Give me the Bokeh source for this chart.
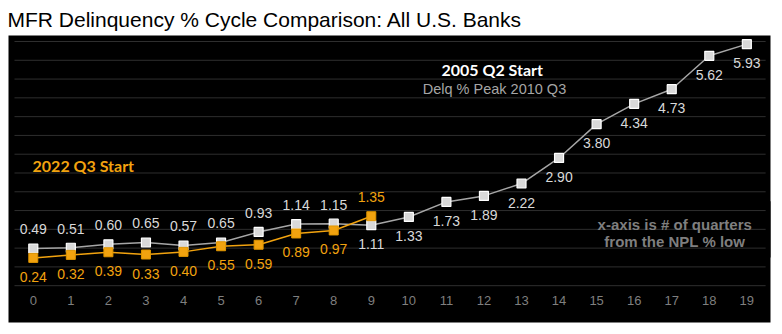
from bokeh.plotting import figure
from bokeh.models import Range1d, BoxAnnotation, ColumnDataSource
from bokeh.embed import file_html
from bokeh.resources import INLINE
from bokeh.core.properties import value

# ---- data ----
quarters = list(range(20))
tick_labels = [str(q) for q in quarters]
cycle_2005 = [0.49, 0.51, 0.60, 0.65, 0.57, 0.65, 0.93, 1.14, 1.15, 1.11,
              1.33, 1.73, 1.89, 2.22, 2.90, 3.80, 4.34, 4.73, 5.62, 5.93]
quarters_2022 = list(range(10))
cycle_2022 = [0.24, 0.32, 0.39, 0.33, 0.40, 0.55, 0.59, 0.89, 0.97, 1.35]
grid_levels = [-0.5, 0.0, 0.5, 1.0, 1.5, 2.0, 2.5, 3.0, 3.5, 4.0, 4.5, 5.0, 5.5, 6.0]
# label side: -1 above the point, +1 below
side_2005 = [-1] * 9 + [1] * 11
side_2022 = [1] * 9 + [-1]

GRAY_LINE = "#A6A6A6"
GRAY_FILL = "#D9D9D9"
GRAY_TEXT = "#D9D9D9"
ORANGE = "#F2A30F"
LABEL_OFF = 19

p = figure(width=782, height=334, output_backend="svg", toolbar_location=None,
           x_range=Range1d(-0.66, 19.63), y_range=Range1d(-1.48, 6.16),
           x_axis_location=None, y_axis_location=None,
           min_border_left=8, min_border_right=12, min_border_bottom=12,
           min_border_top=34, background_fill_color="black",
           border_fill_color="white", outline_line_color=None,
           title="MFR Delinquency % Cycle Comparison: All U.S. Banks")
p.title.text_font = "Liberation Sans"
p.title.text_font_size = "21px"
p.title.text_font_style = "normal"
p.title.text_color = "black"
p.title.offset = -1
p.xgrid.visible = False
p.ygrid.visible = False

# gridlines
p.segment(x0=[-0.5] * len(grid_levels), x1=[19.5] * len(grid_levels),
          y0=grid_levels, y1=grid_levels, line_color="#2E2E2E", line_width=1)

# black box behind the note
p.add_layout(BoxAnnotation(left=14.57, right=19.7, bottom=0.25, top=1.75,
                           fill_color="black", fill_alpha=1.0, line_color=None,
                           level="underlay"))

# 2005 cycle
p.line(quarters, cycle_2005, line_color=GRAY_LINE, line_width=1.5)
p.scatter(quarters, cycle_2005, marker="square", size=9, fill_color=GRAY_FILL,
          line_color="white", line_width=1.2)
# 2022 cycle
p.line(quarters_2022, cycle_2022, line_color=ORANGE, line_width=1.5)
p.scatter(quarters_2022, cycle_2022, marker="square", size=9, fill_color=ORANGE,
          line_color="#E09600", line_width=1)

src05 = ColumnDataSource(dict(x=quarters, y=cycle_2005,
                              t=["%.2f" % v for v in cycle_2005],
                              off=[s * LABEL_OFF for s in side_2005]))
p.text(x="x", y="y", text="t", y_offset="off", source=src05,
       text_font=value("Liberation Sans"), text_font_size="14px",
       text_color=GRAY_TEXT, text_align="center", text_baseline="middle")
src22 = ColumnDataSource(dict(x=quarters_2022, y=cycle_2022,
                              t=["%.2f" % v for v in cycle_2022],
                              off=[s * LABEL_OFF for s in side_2022]))
p.text(x="x", y="y", text="t", y_offset="off", source=src22,
       text_font=value("Liberation Sans"), text_font_size="14px",
       text_color=ORANGE, text_align="center", text_baseline="middle")

# x tick labels
p.text(x=quarters, y=[-0.9] * len(quarters), text=tick_labels,
       text_font=value("Liberation Sans"), text_font_size="13px",
       text_color="#7F7F7F", text_align="center", text_baseline="middle")

# annotations
p.text(x=[12.22], y=[5.265], text=["2005 Q2 Start"], text_font=value("Lato"),
       text_font_style="bold", text_font_size="16px", text_color="white",
       text_align="center", text_baseline="middle")
p.text(x=[12.28], y=[4.73], text=["Delq % Peak 2010 Q3"],
       text_font=value("Liberation Sans"), text_font_size="14.5px",
       text_color="#A6A6A6", text_align="center", text_baseline="middle")
p.text(x=[-0.02], y=[2.70], text=["2022 Q3 Start"], text_font=value("Lato"),
       text_font_style="bold", text_font_size="16px", text_color=ORANGE,
       text_align="left", text_baseline="middle")
p.text(x=[17.08, 17.08], y=[1.137, 0.667],
       text=["x-axis is # of quarters", "from the NPL % low"],
       text_font=value("Liberation Sans"), text_font_style="bold",
       text_font_size="15px", text_color="#7F7F7F",
       text_align="center", text_baseline="middle")

open("out.html", "w").write(file_html(p, INLINE))
